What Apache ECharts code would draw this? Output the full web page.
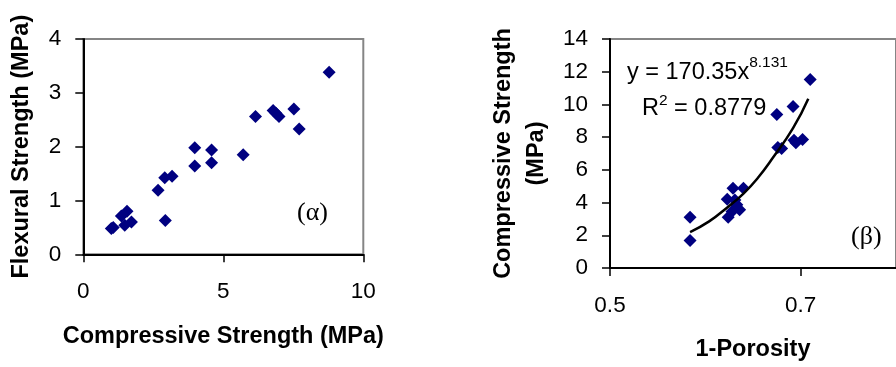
<!DOCTYPE html>
<html><head><meta charset="utf-8">
<script src="https://cdn.jsdelivr.net/npm/echarts@6/dist/echarts.min.js"></script>
<style>html,body{margin:0;padding:0;background:#fff}#c{width:896px;height:367px}</style>
</head><body><div id="c"></div>
<script>
// Panel (α): compressive vs flexural strength
const compA = [1.00, 1.07, 1.36, 1.56, 1.48, 1.72, 2.67, 2.91, 3.17, 2.93, 3.98, 3.98, 4.58, 4.58, 5.71, 6.15, 6.78, 6.88, 6.99, 7.52, 7.71, 8.78];
const flexA = [0.48, 0.50, 0.71, 0.80, 0.54, 0.60, 1.19, 1.42, 1.45, 0.63, 1.98, 1.64, 1.94, 1.70, 1.85, 2.56, 2.67, 2.62, 2.56, 2.70, 2.33, 3.38];
const xTicksA = [0, 5, 10];
const yTicksA = [0, 1, 2, 3, 4];

// Panel (β): 1-porosity vs compressive strength
const poroB = [0.584, 0.584, 0.623, 0.624, 0.629, 0.631, 0.633, 0.636, 0.628, 0.640, 0.675, 0.676, 0.680, 0.692, 0.693, 0.695, 0.702, 0.710];
const compB = [3.10, 1.68, 4.21, 3.10, 4.88, 4.15, 3.86, 3.56, 3.46, 4.88, 9.39, 7.37, 7.30, 9.88, 7.81, 7.65, 7.85, 11.53];
const trendX = [0.584, 0.604, 0.624, 0.640, 0.655, 0.671, 0.692, 0.708];
const trendY = [2.20, 2.85, 3.75, 4.55, 5.50, 6.75, 8.55, 10.35];
const xTicksB = [0.5, 0.7];
const xMaxB = 0.8;
const yTicksB = [0, 2, 4, 6, 8, 10, 12, 14];

const SANS = 'Liberation Sans, Arial, sans-serif';
const SERIF = 'Liberation Serif, Times New Roman, serif';
const zip = (a, b) => a.map((v, i) => [v, b[i]]);
const TICK_FS = 22.5, TITLE_FS = 23.5;

function axisBase() {
  return {
    type: 'value',
    axisLine: { show: true, onZero: false, lineStyle: { color: '#000', width: 2 } },
    axisTick: { show: true, inside: false, length: 8, lineStyle: { color: '#000', width: 1.5 } },
    splitLine: { show: false },
    nameLocation: 'middle',
    nameTextStyle: { color: '#000', fontSize: TITLE_FS, fontWeight: 'bold', fontFamily: SANS }
  };
}

const chart = echarts.init(document.getElementById('c'), null, { renderer: 'canvas' });
chart.setOption({
  animation: false,
  backgroundColor: '#fff',
  grid: [
    { left: 83.3, top: 39, width: 280, height: 215.3, show: true, borderColor: '#858585', borderWidth: 2, backgroundColor: 'transparent' },
    { left: 610, top: 39, width: 297.5, height: 235.3, show: true, borderColor: '#858585', borderWidth: 2, backgroundColor: 'transparent' }
  ],
  xAxis: [
    Object.assign(axisBase(), {
      gridIndex: 0, min: xTicksA[0], max: xTicksA[xTicksA.length - 1], interval: xTicksA[1] - xTicksA[0],
      name: 'Compressive Strength (MPa)', nameGap: 70,
      axisLabel: { color: '#000', fontSize: TICK_FS, fontFamily: SANS, margin: 26 }
    }),
    Object.assign(axisBase(), {
      gridIndex: 1, min: xTicksB[0], max: xMaxB, interval: +(xTicksB[1] - xTicksB[0]).toFixed(3),
      name: '1-Porosity', nameGap: 70,
      axisLabel: { color: '#000', fontSize: TICK_FS, fontFamily: SANS, margin: 26, showMaxLabel: false,
        formatter: v => v.toFixed(1) }
    })
  ],
  yAxis: [
    Object.assign(axisBase(), {
      gridIndex: 0, min: yTicksA[0], max: yTicksA[yTicksA.length - 1], interval: yTicksA[1] - yTicksA[0],
      name: 'Flexural Strength (MPa)', nameGap: 50,
      axisLabel: { color: '#000', fontSize: TICK_FS, fontFamily: SANS, margin: 22 }
    }),
    Object.assign(axisBase(), {
      gridIndex: 1, min: yTicksB[0], max: yTicksB[yTicksB.length - 1], interval: yTicksB[1] - yTicksB[0],
      name: 'Compressive Strength\n(MPa)', nameGap: 57,
      nameTextStyle: { color: '#000', fontSize: TITLE_FS, fontWeight: 'bold', fontFamily: SANS, lineHeight: 33 },
      axisLabel: { color: '#000', fontSize: TICK_FS, fontFamily: SANS, margin: 22 }
    })
  ],
  series: [
    { type: 'scatter', xAxisIndex: 0, yAxisIndex: 0, data: zip(compA, flexA),
      symbol: 'diamond', symbolSize: 13, itemStyle: { color: '#000080', opacity: 1 }, z: 3 },
    { type: 'scatter', xAxisIndex: 1, yAxisIndex: 1, data: zip(poroB, compB),
      symbol: 'diamond', symbolSize: 13, itemStyle: { color: '#000080', opacity: 1 }, z: 3 },
    { type: 'line', xAxisIndex: 1, yAxisIndex: 1, data: zip(trendX, trendY),
      smooth: true, showSymbol: false, lineStyle: { color: '#000', width: 2.5 }, z: 4 }
  ],
  graphic: [
    { type: 'text', x: 297, y: 213, style: { text: '(α)', font: '26px ' + SERIF, fill: '#000', verticalAlign: 'middle' } },
    { type: 'text', x: 851, y: 237, style: { text: '(β)', font: '26px ' + SERIF, fill: '#000', verticalAlign: 'middle' } },
    { type: 'text', x: 627, y: 72.5, style: {
        text: '{m|y = 170.35x}{s|8.131}', verticalAlign: 'middle', align: 'left',
        rich: {
          m: { fontSize: 23.5, fontFamily: SANS, fill: '#000', lineHeight: 35 },
          s: { fontSize: 15.5, fontFamily: SANS, fill: '#000', lineHeight: 16, verticalAlign: 'top' }
        } } },
    { type: 'text', x: 642, y: 108.5, style: {
        text: '{m|R}{s|2}{m| = 0.8779}', verticalAlign: 'middle', align: 'left',
        rich: {
          m: { fontSize: 23.5, fontFamily: SANS, fill: '#000', lineHeight: 31 },
          s: { fontSize: 15.5, fontFamily: SANS, fill: '#000', lineHeight: 16, verticalAlign: 'top' }
        } } }
  ]
});
</script></body></html>
